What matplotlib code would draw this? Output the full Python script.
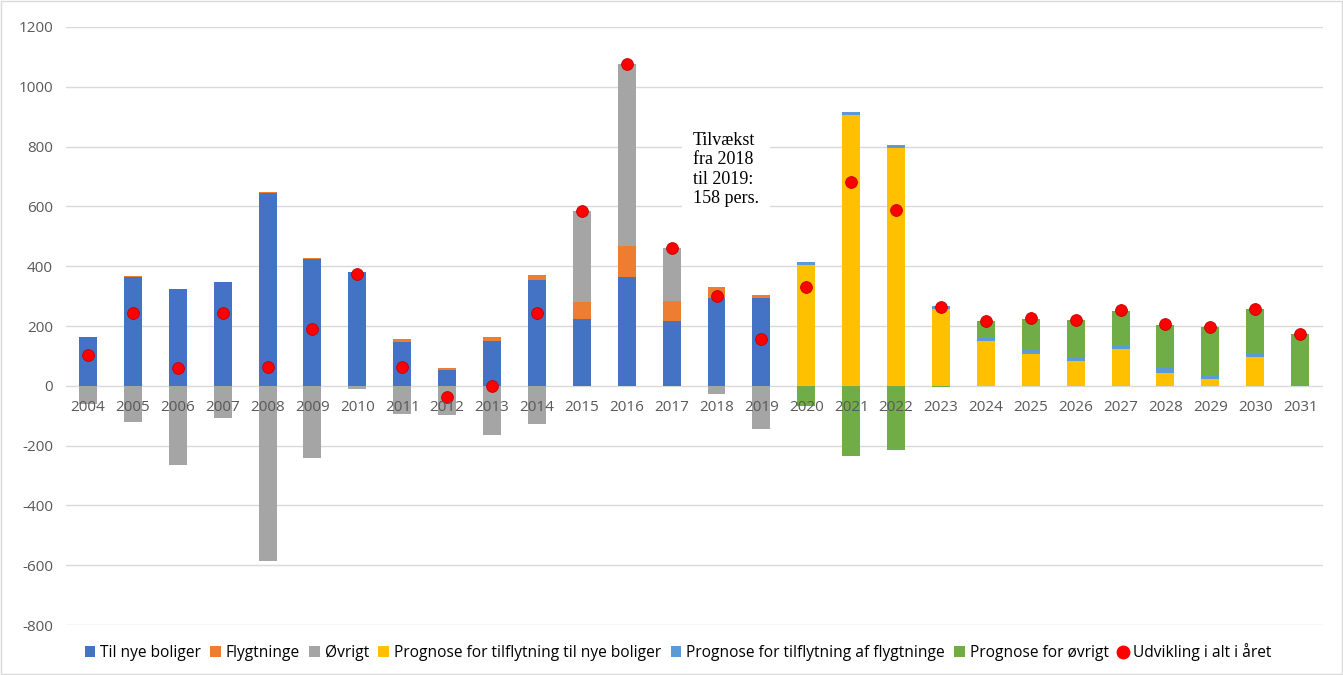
import numpy as np
import matplotlib.pyplot as plt
from matplotlib.patches import Patch, Rectangle
from matplotlib.lines import Line2D

# Data
years = [str(y) for y in range(2004, 2032)]
til_nye = [164, 363, 325, 347, 646, 425, 379, 147, 54, 150, 354, 225, 364, 217, 295, 295,
           0, 0, 0, 0, 0, 0, 0, 0, 0, 0, 0, 0]
flygtninge = [0, 3, 0, 0, 3, 2, 2, 10, 5, 12, 17, 56, 104, 67, 34, 8,
              0, 0, 0, 0, 0, 0, 0, 0, 0, 0, 0, 0]
ovrigt = [-62, -121, -265, -107, -586, -241, -10, -95, -99, -165, -128, 302, 607, 177, -28, -145,
          0, 0, 0, 0, 0, 0, 0, 0, 0, 0, 0, 0]
prog_nye = [0] * 16 + [403, 905, 794, 256, 150, 108, 83, 122, 44, 24, 97, 0]
prog_flygt = [0] * 16 + [11, 12, 11, 10, 11, 12, 11, 11, 15, 13, 12, 0]
prog_ovrigt = [0] * 16 + [-67, -236, -214, -3, 56, 104, 125, 117, 145, 159, 147, 173]
udvikling = [102, 243, 59, 243, 62, 189, 374, 62, -37, -2, 243, 583, 1077, 462, 299, 158,
             332, 680, 589, 263, 217, 226, 220, 252, 206, 196, 258, 173]

series = [
    ("Til nye boliger", til_nye, "#4472C4"),
    ("Flygtninge", flygtninge, "#ED7D31"),
    ("Øvrigt", ovrigt, "#A5A5A5"),
    ("Prognose for tilflytning til nye boliger", prog_nye, "#FFC000"),
    ("Prognose for tilflytning af flygtninge", prog_flygt, "#5B9BD5"),
    ("Prognose for øvrigt", prog_ovrigt, "#70AD47"),
]

fig = plt.figure(figsize=(13.43, 6.75), dpi=100)
ax = fig.add_axes([0.0488, 0.074, 0.936, 0.886])

x = np.arange(len(years))
pos_bottom = np.zeros(len(years))
neg_bottom = np.zeros(len(years))
handles = []
for name, vals, col in series:
    v = np.array(vals, dtype=float)
    pos = np.where(v > 0, v, 0)
    neg = np.where(v < 0, v, 0)
    ax.bar(x, pos, bottom=pos_bottom, width=0.4, color=col, zorder=2)
    ax.bar(x, neg, bottom=neg_bottom, width=0.4, color=col, zorder=2)
    pos_bottom += pos
    neg_bottom += neg
    handles.append(Patch(facecolor=col, label=name))

ax.scatter(x, udvikling, s=72, color="#FF0000", edgecolor="#C00000", linewidth=0.6, zorder=4)
handles.append(Line2D([], [], marker="o", linestyle="none", color="#FF0000",
                      markersize=9, label="Udvikling i alt i året"))

# gridlines
yt = np.arange(-800, 1201, 200)
for v in yt:
    ax.axhline(v, color="#D9D9D9", linewidth=1, zorder=0)

ax.set_ylim(-800, 1200)
ax.set_xlim(-0.5, len(years) - 0.5)
ax.set_yticks(yt)
ax.set_yticklabels([str(v) for v in yt])
ax.set_xticks(x)
ax.set_xticklabels(years)
ax.spines["bottom"].set_position(("data", 0))
for s in ax.spines.values():
    s.set_visible(False)
ax.tick_params(axis="both", length=0, labelsize=11, labelcolor="#595959")
ax.tick_params(axis="x", pad=10)
ax.tick_params(axis="y", pad=9)
for lab in ax.get_xticklabels() + ax.get_yticklabels():
    lab.set_fontfamily("Open Sans")
ax.xaxis.set_zorder(5)

ax.text(13.47, 850, "Tilvækst\nfra 2018\ntil 2019:\n158 pers.", ha="left", va="top",
        fontsize=13, family="Liberation Serif", linespacing=1.2, zorder=3,
        bbox=dict(boxstyle="square,pad=0.6", facecolor="white", edgecolor="none"))

fig.legend(handles=handles, loc="lower center", ncol=7, frameon=False,
           bbox_to_anchor=(0.505, 0.0), handlelength=0.7, handleheight=0.7,
           handletextpad=0.3, columnspacing=0.6,
           prop={"family": "Open Sans", "size": 11.2})

fig.patches.append(Rectangle((0.001, 0.002), 0.998, 0.996, transform=fig.transFigure,
                             fill=False, edgecolor="#D9D9D9", linewidth=1))

fig.savefig("out.png", dpi=100)
